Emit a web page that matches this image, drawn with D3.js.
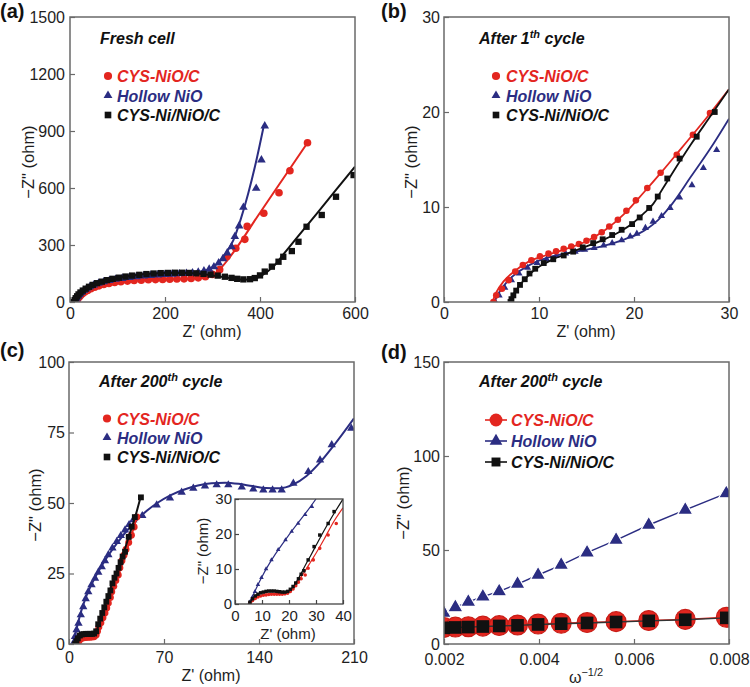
<!DOCTYPE html>
<html><head><meta charset="utf-8">
<script src="https://cdn.jsdelivr.net/npm/d3@7"></script>
<style>body{margin:0;background:#fff}svg{display:block}text{font-family:"Liberation Sans",Arial,Helvetica,sans-serif}</style>
</head><body>
<svg id="chart" width="750" height="687"></svg>
<script>
// ---------- DATA ----------
const seriesNames = ["CYS-NiO/C", "Hollow NiO", "CYS-Ni/NiO/C"];
const panelLabels = ["(a)", "(b)", "(c)", "(d)"];

// (a) Fresh cell
const aXTicks = [0, 200, 400, 600];
const aYTicks = [0, 300, 600, 900, 1200, 1500];
const aRedPts = [[12,0],[14,8],[16,16],[19,25],[22,34],[26,43],[31,52],[37,61],[44,70],[52,78],[61,85],[71,92],[82,98],[94,103],[107,107],[121,110],[135,113],[150,115],[165,117],[180,118],[195,119],[210,120],[225,121],[240,122],[255,124],[270,127],[285,133],[300,145],[315,170],[330,238],[349,283],[368,330],[373,398],[408,467],[440,575],[463,691],[500,838]];
const aRedFit = [[12,0],[20,22],[35,52],[60,82],[90,100],[130,112],[180,118],[230,121],[270,126],[300,142],[320,185],[337,238],[400,470],[450,654],[500,838]];
const aBluePts = [[10,0],[12,10],[14,20],[17,30],[20,40],[24,50],[29,60],[35,70],[42,80],[50,89],[60,98],[71,106],[83,113],[96,119],[110,124],[125,129],[140,133],[155,137],[170,140],[185,142],[200,144],[215,146],[230,148],[245,150],[258,153],[270,157],[282,163],[293,172],[303,185],[313,205],[322,228],[331,258],[340,291],[347,344],[356,400],[365,498],[392,598],[403,747],[410,926]];
const aBlueFit = [[10,0],[18,35],[30,65],[50,92],[80,114],[120,130],[170,142],[220,148],[260,155],[290,170],[309,200],[325,245],[344,326],[360,440],[375,570],[390,720],[408,928]];
const aBlackPts = [[8,0],[10,10],[12,20],[15,30],[18,40],[22,50],[27,60],[33,70],[40,80],[48,90],[57,99],[67,107],[78,115],[90,122],[103,128],[117,134],[131,139],[146,143],[161,147],[176,150],[191,152],[206,153],[221,154],[236,154],[251,153],[266,151],[281,148],[296,144],[311,139],[326,133],[340,127],[352,122],[365,119],[379,120],[389,126],[400,140],[410,160],[425,186],[439,212],[449,238],[467,268],[481,317],[498,396],[530,458],[560,554],[597,668]];
const aBlackFit = [[8,0],[15,28],[30,65],[55,97],[90,122],[140,142],[200,152],[250,152],[300,140],[340,125],[365,117],[385,121],[405,142],[428,186],[450,253],[480,345],[520,467],[560,590],[600,712]];

// (b) After 1th cycle
const bXTicks = [0, 10, 20, 30];
const bYTicks = [0, 10, 20, 30];
const bRedPts = [[5.2,0],[5.5,0.7],[6.1,1.4],[6.8,2.3],[7.5,3.2],[8.3,3.9],[9.2,4.4],[10.1,4.8],[11.0,5.1],[11.8,5.35],[12.6,5.6],[13.4,5.85],[14.2,6.1],[15.0,6.45],[15.8,6.85],[16.6,7.35],[17.4,7.95],[18.3,8.65],[19.2,9.6],[20.2,10.7],[21.4,12.0],[22.8,13.6],[24.5,15.5],[26.2,17.6],[28.0,19.9]];
const bRedFit = [[5.1,0],[5.5,1],[6.3,2.2],[7.5,3.3],[9,4.3],[11,5.0],[13,5.65],[15,6.4],[17,7.6],[19,9.3],[21,11.5],[23,13.8],[25,16.2],[27,18.6],[30,22.4]];
const bBluePts = [[5.4,0],[5.8,0.7],[6.4,1.5],[7.1,2.3],[7.9,3.0],[8.8,3.6],[9.8,4.1],[10.8,4.5],[11.8,4.85],[12.8,5.1],[13.8,5.3],[14.8,5.5],[15.8,5.7],[16.8,5.95],[17.7,6.2],[18.7,6.5],[19.6,6.9],[20.3,7.2],[21.2,7.8],[22.0,8.45],[22.9,9.05],[23.8,9.9],[24.8,11.0],[26.1,12.3],[27.3,14.1],[28.7,16.0]];
const bBlueFit = [[5.3,0],[5.8,1],[6.8,2.3],[8,3.3],[9.5,4.15],[11,4.7],[13,5.15],[15,5.5],[17,5.95],[19,6.6],[20.5,7.2],[21.5,7.8],[22.5,8.6],[24,10.3],[26,13.2],[28,16.1],[30,19.3]];
const bBlackPts = [[7.0,0],[7.1,0.3],[7.3,0.7],[7.6,1.2],[8.0,1.8],[8.5,2.4],[9.0,3.0],[9.6,3.5],[10.5,4.1],[11.5,4.5],[12.6,4.9],[13.6,5.3],[14.6,5.75],[15.7,6.2],[16.7,6.6],[17.7,7.05],[18.7,7.6],[19.8,8.2],[20.6,8.9],[21.6,9.9],[22.5,11.1],[23.5,13.0],[24.8,15.1],[26.6,17.4],[28.5,20.0]];
const bBlackFit = [[6.9,0],[7.3,0.8],[8,1.8],[9,2.9],[10,3.7],[11.5,4.5],[13,5.1],[15,5.85],[17,6.65],[18.5,7.4],[20,8.4],[21,9.3],[22,10.3],[23,11.9],[24,13.5],[26,16.6],[28,19.5],[30,22.4]];

// (c) After 200th cycle
const cXTicks = [0, 70, 140, 210];
const cYTicks = [0, 25, 50, 75, 100];
const cBluePts = [[3.5,0.5],[4.4,2.6],[5.6,5],[7,7.3],[8.7,10.3],[10.5,13.2],[12.3,16],[14.2,18.5],[16.6,21],[19.2,23.3],[21.6,25.4],[24.1,27.4],[26.5,29.5],[29,31.6],[32,34],[35.2,36.3],[38.2,38.4],[41.3,40.4],[44.3,42.3],[47.4,44],[54,45.5],[64.6,49.3],[74.4,51.7],[83,53.8],[91.6,55.2],[100.2,56],[108.8,56.4],[117.4,56.4],[127.3,55.6],[135.8,54.9],[143.2,54.6],[150,54.6],[156.7,54.6],[165.3,57],[176.3,61.1],[185,65.2],[193.6,70.6],[208,76.5]];
const cBlueFit = [[3.5,0],[5,4],[8,10],[12,16],[18,22.5],[25,28.5],[35,35.5],[45,41.5],[55,46.3],[65,50],[75,52.8],[85,54.8],[95,56.2],[105,57],[115,57.2],[125,56.8],[135,56],[145,55.3],[155,55.2],[165,56.5],[175,59.6],[185,64.4],[195,70.3],[210,80]];
const cRedPts = [[6,0],[7,0.8],[8,1.5],[9.5,2],[11,2.2],[12.5,2.3],[14,2.4],[15.5,2.4],[17,2.5],[18.5,2.6],[20,3.2],[21,4.5],[22,6],[23.5,7.5],[25,9.3],[26.5,11],[27.8,12.8],[29,14.5],[30.5,16.5],[31.5,18.5],[33,20.5],[34.5,22.5],[36.3,24.5],[37.5,27],[39,29.5],[40.5,31.5],[42,33.5],[44,36],[46,38.6],[48,41.5],[50,45]];
const cRedFit = [[5.5,0],[8,1.5],[11,2.2],[15,2.5],[18,2.7],[20,3.5],[22,5.8],[25,9.5],[30,16],[35,22.8],[40,29.5],[45,37],[50,45]];
const cBlackPts = [[4.5,0],[5.5,1],[6.5,2],[8,3],[9.5,3.4],[11,3.5],[12.5,3.6],[14,3.6],[15.5,3.6],[17,3.6],[18.5,3.7],[20,4.5],[21.5,7],[23,9],[24.5,11],[26,13],[27.5,15],[29,17],[30.5,19],[32,21.5],[33.5,23.5],[35,25],[36.5,27],[38,29],[39.5,31],[41.3,32.7],[44,38],[46.2,41.6],[48.5,45],[53,52]];
const cBlackFit = [[4.5,0],[6,2],[8,3.2],[11,3.6],[15,3.6],[18.5,3.7],[21,5.5],[23,9],[26,13.3],[30,19],[35,25.5],[40,32],[45,39.5],[49,45.5],[53,52.5]];

// (c) inset
const iXTicks = [0, 10, 20, 30, 40];
const iYTicks = [0, 10, 20, 30];
const iBluePts = [[5.5,0.5],[6.5,2],[7.4,3.5],[8.5,5.5],[9.8,7.5],[11.5,10],[13.5,12.6],[16,15.5],[18.7,18.3],[21,20.7],[23.4,23],[26,25.5],[28.5,27.8]];
const iBlueFit = [[5,0],[6,1.5],[7,3],[8.5,5.5],[10,7.8],[12,10.6],[15,14.3],[18,17.6],[21,20.8],[24,23.8],[27,26.8],[30,30]];
const iRedPts = [[5.5,0.3],[6.5,1],[7.5,1.6],[8.5,2],[9.5,2.3],[10.5,2.5],[11.5,2.6],[12.5,2.7],[13.5,2.8],[14.5,2.8],[15.5,2.8],[16.5,2.8],[17.5,2.8],[18.5,2.9],[19.5,3.1],[20.5,3.6],[21.5,4.3],[22.5,5.2],[23.5,6.2],[24.5,7.2],[26,8.3],[27.1,10.2],[29,12.6],[31.4,15.9],[34.5,19.7],[37.5,23]];
const iRedFit = [[5.5,0],[7,1.2],[9,2.2],[11,2.6],[14,2.8],[17,2.8],[19,3],[20.5,3.6],[22,4.8],[24,7.2],[26,9.5],[28,12],[30,14.5],[33,18.5],[36,22.8],[40,27.5]];
const iBlackPts = [[5.5,0.5],[6.5,1.5],[7.5,2.3],[8.5,2.8],[9.5,3.2],[10.5,3.4],[11.5,3.6],[12.5,3.7],[13.5,3.7],[14.5,3.7],[15.5,3.6],[16.5,3.5],[17.5,3.4],[18.5,3.4],[19.5,3.6],[20.5,4.2],[21.5,5],[22.5,6],[23.5,7.2],[24.5,8.5],[25.5,9.5],[27.1,12.6],[29.3,16.4],[31.4,19.7],[34.5,23],[36.7,26.4]];
const iBlackFit = [[5.3,0],[7,2],[9,3],[11,3.5],[14,3.7],[17,3.5],[19,3.5],[20.5,4],[22,5.5],[24,8],[26,11],[28,13.8],[30,16.7],[33,21],[36,25],[40,30]];

// (d) After 200th cycle, -Z'' vs w^-1/2
const dXTicks = [0.002, 0.004, 0.006, 0.008];
const dYTicks = [0, 50, 100, 150];
const dOmega = [0.001995,0.002239,0.002512,0.002818,0.003162,0.003548,0.003981,0.004467,0.005012,0.005623,0.00631,0.007079,0.007943];
const dRed   = [8.8,9.0,9.2,9.5,9.8,10.1,10.6,11.0,11.4,11.9,12.5,13.1,14.2];
const dBlue  = [16.5,19.5,22.4,25.2,28.0,31.9,36.7,42.0,48.6,55.3,63.3,71.3,80.1];
const dBlack = [8.6,8.8,9.0,9.3,9.6,9.9,10.4,10.8,11.2,11.7,12.3,12.9,13.9];

// ---------- STYLE ----------
const RED = "#e3261f", BLUE = "#2b2d82", BLACK = "#111111";
const FRAME = "#6a6a6a";
const svg = d3.select("#chart");
let clipN = 0;

function makePanel(c) {
  const x = d3.scaleLinear().domain(c.xd).range([c.l, c.r]);
  const y = d3.scaleLinear().domain(c.yd).range([c.b, c.t]);
  const g = svg.append("g");
  if (c.bg) g.append("rect").attr("x", c.l).attr("y", c.t).attr("width", c.r - c.l).attr("height", c.b - c.t).attr("fill", "#fff");
  const id = "clip" + (clipN++);
  svg.append("clipPath").attr("id", id).append("rect")
    .attr("x", c.l).attr("y", c.t).attr("width", c.r - c.l).attr("height", c.b - c.t);
  const fs = c.fs || 16;
  const xa = g.append("g").attr("transform", `translate(0,${c.b})`)
    .call(d3.axisBottom(x).tickValues(c.xt).tickFormat(c.xf || d3.format("d"))
      .tickSizeInner(-(c.tl || 5)).tickSizeOuter(0).tickPadding(c.xp));
  const ya = g.append("g").attr("transform", `translate(${c.l},0)`)
    .call(d3.axisLeft(y).tickValues(c.yt).tickFormat(d3.format("d"))
      .tickSizeInner(-(c.tl || 5)).tickSizeOuter(0).tickPadding(c.yp));
  [xa, ya].forEach(a => {
    a.select(".domain").remove();
    a.selectAll(".tick line").attr("stroke", c.fc || FRAME).attr("stroke-width", 1.2);
    a.selectAll(".tick text").attr("font-size", fs).attr("fill", "#1e1e1e")
      .attr("font-family", '"Liberation Sans",Arial,sans-serif');
  });
  const plot = g.append("g").attr("clip-path", `url(#${id})`);
  g.append("rect").attr("x", c.l).attr("y", c.t).attr("width", c.r - c.l).attr("height", c.b - c.t)
    .attr("fill", "none").attr("stroke", c.fc || FRAME).attr("stroke-width", c.fw || 1.5);
  return { x, y, g, plot };
}

const SYM = { circle: d3.symbolCircle, triangle: d3.symbolTriangle, square: d3.symbolSquare };

function drawSeries(P, pts, fit, color, shape, size, lw) {
  P.plot.selectAll(null).data(pts).enter().append("path")
    .attr("d", d3.symbol(SYM[shape], size))
    .attr("transform", d => `translate(${P.x(d[0])},${P.y(d[1])})`)
    .attr("fill", color);
  const line = d3.line().x(d => P.x(d[0])).y(d => P.y(d[1])).curve(d3.curveMonotoneX);
  P.plot.append("path").datum(fit).attr("d", line)
    .attr("fill", "none").attr("stroke", color).attr("stroke-width", lw);
}

function legend(items, mx, ys, tx, sizes, withLine) {
  items.forEach((it, i) => {
    const yy = ys[i];
    if (withLine) svg.append("line").attr("x1", mx - 11).attr("x2", mx + 11).attr("y1", yy).attr("y2", yy)
      .attr("stroke", it.color).attr("stroke-width", 1.6);
    svg.append("path").attr("d", d3.symbol(SYM[it.shape], sizes[i]))
      .attr("transform", `translate(${mx},${yy})`).attr("fill", it.color);
    svg.append("text").attr("x", tx).attr("y", yy + 6).text(it.name)
      .attr("font-size", 16).attr("font-weight", "bold").attr("font-style", "italic").attr("fill", it.color);
  });
}

function note(x, y, main, sup, rest) {
  const t = svg.append("text").attr("x", x).attr("y", y).attr("font-size", 16)
    .attr("font-weight", "bold").attr("font-style", "italic").attr("fill", "#111");
  t.append("tspan").text(main);
  if (sup) {
    t.append("tspan").text(sup).attr("font-size", 11).attr("dy", -6);
    t.append("tspan").text(rest).attr("dy", 6);
  }
}

function ytitle(x, y, fs, txt) {
  svg.append("text").attr("transform", `translate(${x},${y}) rotate(-90)`)
    .attr("text-anchor", "middle").attr("font-size", fs).attr("fill", "#1e1e1e").text(txt);
}
function xtitle(x, y, fs, txt) {
  svg.append("text").attr("x", x).attr("y", y).attr("text-anchor", "middle")
    .attr("font-size", fs).attr("fill", "#1e1e1e").text(txt);
}

const legItems = [
  { name: seriesNames[0], color: RED, shape: "circle" },
  { name: seriesNames[1], color: BLUE, shape: "triangle" },
  { name: seriesNames[2], color: BLACK, shape: "square" }
];

// ---------- PANEL A ----------
const A = makePanel({ l: 70, r: 355, t: 17, b: 302, xd: [0, 600], yd: [0, 1500], xt: aXTicks, yt: aYTicks, xp: 6, yp: 5 });
drawSeries(A, aRedPts, aRedFit, RED, "circle", 46, 2);
drawSeries(A, aBluePts, aBlueFit, BLUE, "triangle", 32, 2);
drawSeries(A, aBlackPts, aBlackFit, BLACK, "square", 40, 2);
legend(legItems, 108, [76, 95.5, 115], 117, [52, 34, 44], false);
note(100, 43.5, "Fresh cell");
ytitle(34, 162, 16.5, '\u2212Z" (ohm)');
xtitle(212, 337, 16, "Z' (ohm)");

// ---------- PANEL B ----------
const B = makePanel({ l: 444, r: 729, t: 17, b: 302, xd: [0, 30], yd: [0, 30], xt: bXTicks, yt: bYTicks, xp: 6, yp: 4 });
drawSeries(B, bBluePts, bBlueFit, BLUE, "triangle", 22, 1.8);
drawSeries(B, bRedPts, bRedFit, RED, "circle", 34, 1.8);
drawSeries(B, bBlackPts, bBlackFit, BLACK, "square", 34, 1.8);
legend(legItems, 496, [76, 95.5, 115], 506, [52, 34, 44], false);
note(479, 43.5, "After 1", "th", " cycle");
ytitle(417, 162, 16.5, '\u2212Z" (ohm)');
xtitle(586, 337, 16, "Z' (ohm)");

// ---------- PANEL C ----------
const C = makePanel({ l: 69, r: 354, t: 362, b: 644, xd: [0, 210], yd: [0, 100], xt: cXTicks, yt: cYTicks, xp: 8, yp: 4 });
drawSeries(C, cBluePts, cBlueFit, BLUE, "triangle", 30, 2);
drawSeries(C, cRedPts, cRedFit, RED, "circle", 38, 2);
drawSeries(C, cBlackPts, cBlackFit, BLACK, "square", 34, 2);
legend(legItems, 107, [418.5, 437.5, 457], 117, [52, 34, 44], false);
note(99, 386.5, "After 200", "th", " cycle");
ytitle(41, 505, 16.5, '\u2212Z" (ohm)');
xtitle(211, 681, 16, "Z' (ohm)");

// inset
const I = makePanel({ l: 235, r: 343, t: 499, b: 604, xd: [0, 40], yd: [0, 30], xt: iXTicks, yt: iYTicks, xp: 6, yp: 3, fs: 15, tl: 4, fc: "#444", fw: 1.3, bg: true });
drawSeries(I, iBluePts, iBlueFit, BLUE, "triangle", 9, 1.2);
drawSeries(I, iRedPts, iRedFit, RED, "circle", 10, 1.2);
drawSeries(I, iBlackPts, iBlackFit, BLACK, "square", 12, 1.2);
ytitle(208, 551, 15, '\u2212Z" (ohm)');
xtitle(288, 639, 15, "Z' (ohm)");

// ---------- PANEL D ----------
const D = makePanel({ l: 444, r: 729, t: 362, b: 644, xd: [0.002, 0.008], yd: [0, 150], xt: dXTicks, yt: dYTicks, xf: d3.format(".3f"), xp: 10, yp: 4 });
function dSeries(vals, color, shape, size, stroke) {
  const pts = dOmega.map((w, i) => [w, vals[i]]);
  const line = d3.line().x(d => D.x(d[0])).y(d => D.y(d[1]));
  D.plot.append("path").datum(pts).attr("d", line).attr("fill", "none").attr("stroke", color === BLACK ? "#333" : color).attr("stroke-width", 1.4);
  D.plot.selectAll(null).data(pts).enter().append("path")
    .attr("d", d3.symbol(SYM[shape], size))
    .attr("transform", d => `translate(${D.x(d[0])},${D.y(d[1])})`)
    .attr("fill", color).attr("stroke", stroke || "none").attr("stroke-width", 1.2);
}
dSeries(dBlue, BLUE, "triangle", 100, "#fff");
dSeries(dRed, RED, "circle", 310, "#c81d17");
dSeries(dBlack, BLACK, "square", 160);
legend(legItems, 496, [420, 441, 462], 511, [130, 70, 80], true);
note(479, 386.5, "After 200", "th", " cycle");
ytitle(409, 503, 16.5, '\u2212Z" (ohm)');
const wt = svg.append("text").attr("x", 586).attr("y", 683).attr("text-anchor", "middle")
  .attr("font-size", 16).attr("fill", "#1e1e1e");
wt.append("tspan").text("\u03c9");
wt.append("tspan").text("\u22121/2").attr("font-size", 11).attr("dy", -7);

// ---------- PANEL LABELS ----------
const labPos = [[0, 18], [381, 18], [0, 357], [381, 359]];
panelLabels.forEach((t, i) => svg.append("text").attr("x", labPos[i][0]).attr("y", labPos[i][1])
  .attr("font-size", 20).attr("font-weight", "bold").attr("fill", "#111").text(t));
</script>
</body></html>
